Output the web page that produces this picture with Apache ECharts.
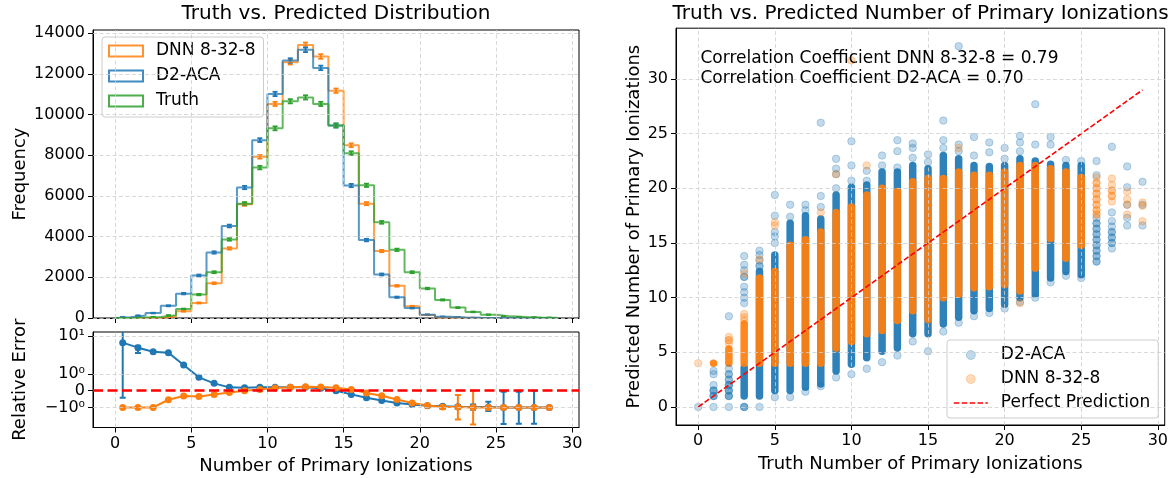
<!DOCTYPE html>
<html>
<head>
<meta charset="utf-8">
<script src="https://cdn.jsdelivr.net/npm/echarts@6/dist/echarts.min.js"></script>
<style>
  html, body { margin: 0; padding: 0; background: #fff; }
  #chart { width: 1171px; height: 478px; }
</style>
</head>
<body>
<div id="chart"></div>
<script>
// ---------------- data ----------------
// unit-width histogram bins: left edges 0 .. 28
const binLefts = [0, 1, 2, 3, 4, 5, 6, 7, 8, 9, 10, 11, 12, 13, 14, 15, 16, 17, 18, 19, 20, 21, 22, 23, 24, 25, 26, 27, 28];
const binWidth = 1;

const histDNN   = [0, 0, 0, 76, 330, 740, 1710, 3420, 5590, 7920, 10520, 12570, 13420, 12850, 11170, 8490, 5620, 3290, 1580, 575, 150, 30, 15, 0, 0, 0, 0, 0, 0];
const histD2    = [38, 119, 243, 600, 1197, 2090, 3220, 4520, 6410, 8740, 11010, 12650, 13180, 12290, 9460, 6510, 3830, 2140, 1020, 490, 165, 65, 30, 10, 5, 0, 0, 0, 0];
const histTruth = [5, 20, 50, 130, 440, 1150, 2250, 3860, 5620, 7390, 9320, 10650, 10840, 10520, 9460, 8100, 6520, 4700, 3350, 2250, 1450, 890, 510, 300, 165, 80, 50, 30, 15];

// relative error (prediction - truth) / truth per bin
const relD2  = [6.67, 4.93, 3.87, 3.64, 1.72, 0.80, 0.44, 0.20, 0.18, 0.20, 0.20, 0.20, 0.20, 0.14, 0.0, -0.22, -0.42, -0.58, -0.74, -0.82, -0.90, -0.93, -0.96, -0.98, -0.98, -1.0, -1.0, -1.0, -1.0];
const relDNN = [-1, -1, -1, -0.54, -0.32, -0.34, -0.22, -0.10, 0.0, 0.08, 0.16, 0.20, 0.24, 0.22, 0.18, 0.08, -0.14, -0.30, -0.52, -0.74, -0.88, -0.97, -0.97, -1, -1, -1, -1, -1, -1];
// error bars on the relative error: [bin index, low, high]
const relD2Err  = [[0, -0.42, 40], [1, 3.56, 5.56], [21, -1.05, -0.85], [22, -1.1, -0.85], [23, -1.15, -0.83], [24, -1.25, -0.66], [25, -2.74, -0.06], [26, -2.7, -0.06], [27, -2.7, 0]];
const relDNNErr = [[21, -1.1, -0.86], [22, -2.07, -0.26], [23, -2.8, 0]];

// scatter: truth value vs predicted value
// dense columns [truth, lowest predicted, highest predicted]
const d2Bands = [
  [3, 1.0, 3.6], [4, 1.0, 12.4], [5, 1.5, 13.9], [6, 1.5, 16.8], [7, 1.8, 17.5], [8, 2.1, 17.2],
  [9, 3.3, 19.4], [10, 3.9, 20.1], [11, 4.5, 20.3], [12, 5.1, 21.5], [13, 5.4, 21.5], [14, 6.7, 22.1],
  [15, 6.7, 21.8], [16, 7.6, 23.0], [17, 8.2, 22.7], [18, 8.8, 22.1], [19, 9.0, 22.0], [20, 9.4, 22.1],
  [21, 10.0, 22.7], [22, 10.3, 22.5], [23, 11.8, 22.2], [24, 12.4, 22.1], [25, 12.1, 22.1]
];
const dnnBands = [
  [1, 4.0, 4.0], [2, 4.0, 5.3], [3, 4.0, 7.6], [4, 4.0, 11.8], [5, 4.0, 12.4], [6, 4.0, 14.8],
  [7, 4.0, 15.3], [8, 4.0, 16.0], [9, 5.4, 17.8], [10, 6.0, 18.3], [11, 6.7, 19.4], [12, 7.0, 20.0],
  [13, 7.9, 19.7], [14, 8.8, 20.6], [15, 8.0, 20.9], [16, 10.0, 20.9], [17, 10.3, 21.5], [18, 10.9, 21.2],
  [19, 11.0, 21.2], [20, 11.2, 21.5], [21, 10.6, 22.1], [22, 12.7, 22.1], [23, 15.4, 21.8], [24, 13.6, 21.5],
  [25, 14.8, 21.0]
];
// isolated predictions [truth, predicted, multiplicity]
const d2Dots = [
  [0, 0, 1],
  [1, 0, 1], [1, 1.0, 3], [1, 1.5, 3], [1, 2.0, 1], [1, 3.0, 1], [1, 3.3, 1],
  [2, 0, 1], [2, 1.0, 3], [2, 1.5, 3], [2, 2.0, 3], [2, 2.5, 2], [2, 3.0, 2], [2, 3.5, 1], [2, 8.3, 1],
  [3, 0, 3], [3, 9.5, 1], [3, 10.0, 1], [3, 10.5, 1], [3, 11.0, 1], [3, 11.9, 2], [3, 12.5, 1], [3, 13.0, 1], [3, 13.8, 1],
  [4, 0, 1], [4, 12.9, 2], [4, 13.4, 1], [4, 13.9, 1], [4, 14.3, 1],
  [5, 0.9, 1], [5, 15.0, 1], [5, 15.6, 1], [5, 16.0, 1], [5, 17.5, 1], [5, 19.4, 1],
  [6, 0.9, 1], [6, 17.4, 1], [6, 18.5, 1],
  [7, 1.4, 1], [7, 18.0, 1], [7, 18.5, 1],
  [8, 1.9, 1], [8, 18.3, 1], [8, 19.3, 1], [8, 26.0, 1],
  [9, 2.7, 1], [9, 20.0, 1], [9, 21.3, 1], [9, 21.8, 1], [9, 22.7, 1],
  [10, 3.0, 1], [10, 20.7, 1], [10, 22.1, 1], [10, 24.3, 1],
  [11, 3.5, 1], [11, 20.7, 1], [11, 21.6, 1],
  [12, 4.1, 1], [12, 22.1, 1], [12, 23.0, 1],
  [13, 4.7, 1], [13, 21.9, 1], [13, 23.4, 1], [13, 24.4, 1],
  [14, 6.0, 1], [14, 22.8, 1], [14, 23.7, 1], [14, 24.1, 1],
  [15, 5.1, 1], [15, 22.4, 1], [15, 23.1, 1],
  [16, 6.9, 1], [16, 23.7, 1], [16, 24.4, 1], [16, 26.2, 1],
  [17, 7.7, 1], [17, 23.4, 1], [17, 24.0, 1], [17, 33.0, 1],
  [18, 8.3, 1], [18, 23.0, 1], [18, 24.7, 1],
  [19, 8.6, 1], [19, 23.3, 1], [19, 24.2, 1],
  [20, 9.0, 1], [20, 22.7, 1], [20, 23.7, 1],
  [21, 9.6, 1], [21, 23.4, 1], [21, 24.2, 1], [21, 24.8, 1],
  [22, 10.0, 1], [22, 24.0, 1], [22, 27.7, 1],
  [23, 11.4, 1], [23, 24.0, 1], [23, 24.7, 1],
  [24, 12.0, 1], [24, 22.6, 1],
  [25, 11.8, 1], [25, 22.5, 1],
  [26, 13.3, 2], [26, 13.8, 2], [26, 14.3, 2], [26, 14.8, 2], [26, 15.3, 2], [26, 15.8, 2], [26, 16.3, 2], [26, 16.8, 2], [26, 17.3, 1], [26, 21.2, 1], [26, 22.5, 1],
  [27, 14.5, 1], [27, 15.0, 2], [27, 15.5, 2], [27, 16.0, 2], [27, 16.5, 1], [27, 17.0, 1], [27, 17.8, 1], [27, 23.8, 1],
  [28, 16.6, 1], [28, 17.3, 1], [28, 18.5, 1], [28, 20.1, 1], [28, 22.0, 1],
  [29, 16.6, 1], [29, 18.5, 1], [29, 20.6, 1]
];
const dnnDots = [
  [0, 4.0, 1],
  [2, 5.8, 1], [2, 6.1, 2], [2, 6.4, 1],
  [3, 7.9, 1], [3, 8.2, 1], [3, 8.5, 1], [3, 12.2, 1],
  [4, 13.5, 1],
  [5, 16.6, 1], [5, 16.9, 1],
  [8, 17.8, 1],
  [9, 21.3, 1],
  [10, 31.7, 1],
  [11, 22.1, 1],
  [17, 23.7, 1],
  [21, 9.5, 1],
  [26, 17.6, 2], [26, 18.0, 2], [26, 18.5, 2], [26, 19.0, 2], [26, 19.5, 2], [26, 20.0, 2], [26, 20.5, 2], [26, 21.0, 1],
  [27, 18.8, 1], [27, 19.3, 2], [27, 19.8, 2], [27, 20.3, 1], [27, 20.9, 1],
  [28, 17.6, 1], [28, 18.5, 1], [28, 19.0, 1], [28, 19.7, 1],
  [29, 17.0, 1], [29, 18.4, 1], [29, 18.7, 1]
];
const truthRange = [0, 29];
const corrDNN = 0.79;
const corrD2 = 0.70;

// tick positions
const xTicks = [0, 5, 10, 15, 20, 25, 30];
const freqTicks = [0, 2000, 4000, 6000, 8000, 10000, 12000, 14000];
const relTicks = [-1, 0, 1, 10];
const predTicks = [0, 5, 10, 15, 20, 25, 30];

// ---------------- styling ----------------
const FONT = 'DejaVu Sans';
const BLUE = '#1f77b4', ORANGE = '#ff7f0e', GREEN = '#2ca02c';
const DOT_ALPHA = 0.28;
const GRID_LINE = { color: '#cfcfcf', width: 0.8, type: [4, 2.5] };

// symmetric-log mapping used by the relative error axis
const LIN = 0.44;
function symlog(v) {
  const a = Math.abs(v);
  return a <= 1 ? v * LIN : Math.sign(v) * (LIN + Math.log10(a));
}
const relTickText = { '-1': '\u221210\u2070', '0': '0', '1': '10\u2070', '10': '10\u00b9' };

const G = [
  { left: 93, top: 30, width: 486, height: 288 },    // histogram
  { left: 93, top: 332, width: 486, height: 95.5 },  // relative error
  { left: 676, top: 28.2, width: 489, height: 400 }  // scatter
];

function stepData(counts) {
  const pts = [[binLefts[0], 0]];
  counts.forEach((c, i) => pts.push([binLefts[i], c]));
  const end = binLefts[counts.length - 1] + binWidth;
  pts.push([end, counts[counts.length - 1]]);
  pts.push([end, 0]);
  return pts;
}

function errorBarRender(color, capHalf, lw) {
  return function (params, api) {
    const x = api.value(0);
    const lo = api.coord([x, api.value(1)]);
    const hi = api.coord([x, api.value(2)]);
    const st = { stroke: color, lineWidth: lw };
    return {
      type: 'group',
      children: [
        { type: 'line', shape: { x1: lo[0], y1: lo[1], x2: hi[0], y2: hi[1] }, style: st },
        { type: 'line', shape: { x1: lo[0] - capHalf, y1: lo[1], x2: lo[0] + capHalf, y2: lo[1] }, style: st },
        { type: 'line', shape: { x1: hi[0] - capHalf, y1: hi[1], x2: hi[0] + capHalf, y2: hi[1] }, style: st }
      ]
    };
  };
}

function histErrData(counts) {
  return counts.map((c, i) => [binLefts[i] + binWidth / 2, c - Math.sqrt(c), c + Math.sqrt(c)]).filter((d, i) => counts[i] > 0);
}

const MARK = 7.5;
function bandRender(color) {
  return function (params, api) {
    const x = api.value(0);
    const top = api.coord([x, api.value(2)]);
    const bot = api.coord([x, api.value(1)]);
    const r = MARK / 2;
    return {
      type: 'rect',
      shape: { x: top[0] - r, y: top[1] - r, width: 2 * r, height: bot[1] - top[1] + 2 * r, r: r },
      style: { fill: color, opacity: 0.93 }
    };
  };
}

function dotData(list) {
  return list.map(d => ({ value: [d[0], d[1]], itemStyle: { opacity: 1 - Math.pow(1 - DOT_ALPHA, d[2]) } }));
}

function gridLines(gridIdx, xs, ys) {
  return {
    type: 'line', xAxisIndex: gridIdx, yAxisIndex: gridIdx, data: [], silent: true, z: 1,
    markLine: {
      silent: true, symbol: 'none', animation: false, label: { show: false },
      lineStyle: GRID_LINE,
      data: xs.map(v => ({ xAxis: v })).concat(ys.map(v => ({ yAxis: v })))
    }
  };
}

const tickText = { fontFamily: FONT, fontSize: 16, color: '#000' };
const nameText = { fontFamily: FONT, fontSize: 18, color: '#000' };
const axisLine = { show: true, onZero: false, lineStyle: { color: '#000', width: 1 } };
const plain = v => String(v);
function ticks(values) {
  return { show: true, inside: false, length: 5, customValues: values, lineStyle: { color: '#000', width: 1 } };
}

const option = {
  animation: false,
  backgroundColor: '#fff',
  title: [
    { text: 'Truth vs. Predicted Distribution', left: G[0].left + G[0].width / 2, top: 4, textAlign: 'center', padding: 0,
      textStyle: { fontFamily: FONT, fontSize: 20, fontWeight: 'normal', color: '#000' } },
    { text: 'Truth vs. Predicted Number of Primary Ionizations', left: G[2].left + G[2].width / 2, top: 4, textAlign: 'center', padding: 0,
      textStyle: { fontFamily: FONT, fontSize: 20, fontWeight: 'normal', color: '#000' } },
    { text: 'Correlation Coefficient DNN 8-32-8 = ' + corrDNN.toFixed(2) + '\nCorrelation Coefficient D2-ACA = ' + corrD2.toFixed(2),
      left: G[2].left + 0.05 * G[2].width, top: G[2].top + 0.05 * G[2].height, padding: 0,
      textStyle: { fontFamily: FONT, fontSize: 17, lineHeight: 20, fontWeight: 'normal', color: '#000' } }
  ],
  legend: [
    {
      orient: 'vertical', left: 102, top: 37, padding: [4, 8, 6, 6], itemGap: 5, itemWidth: 34, itemHeight: 11,
      backgroundColor: 'rgba(255,255,255,0.8)', borderColor: '#cccccc', borderWidth: 1, borderRadius: 3,
      textStyle: { fontFamily: FONT, fontSize: 17, color: '#000', lineHeight: 20, padding: [0, 0, 0, 8] },
      selectedMode: false,
      data: [
        { name: 'DNN 8-32-8', icon: 'rect', itemStyle: { color: 'rgba(0,0,0,0)', borderColor: ORANGE, borderWidth: 2, opacity: 0.85 } },
        { name: 'D2-ACA', icon: 'rect', itemStyle: { color: 'rgba(0,0,0,0)', borderColor: BLUE, borderWidth: 2, opacity: 0.85 } },
        { name: 'Truth', icon: 'rect', itemStyle: { color: 'rgba(0,0,0,0)', borderColor: GREEN, borderWidth: 2, opacity: 0.85 } }
      ]
    },
    {
      orient: 'vertical', left: 947, top: 340, padding: [5, 8, 5, 6], itemGap: 4, itemWidth: 34, itemHeight: 9,
      backgroundColor: 'rgba(255,255,255,0.8)', borderColor: '#cccccc', borderWidth: 1, borderRadius: 3,
      textStyle: { fontFamily: FONT, fontSize: 17, color: '#000', lineHeight: 20, padding: [0, 0, 0, 8] },
      selectedMode: false,
      formatter: name => name.replace(' pred', ''),
      data: [
        { name: 'D2-ACA pred', icon: 'circle', itemStyle: { color: BLUE, opacity: DOT_ALPHA, borderColor: BLUE, borderWidth: 1 } },
        { name: 'DNN 8-32-8 pred', icon: 'circle', itemStyle: { color: ORANGE, opacity: DOT_ALPHA, borderColor: ORANGE, borderWidth: 1 } },
        { name: 'Perfect Prediction', itemStyle: { color: 'rgba(0,0,0,0)', borderWidth: 0, opacity: 0 },
          lineStyle: { color: '#ff0000', width: 1.6, type: [5.5, 2.4], opacity: 1 } }
      ]
    }
  ],
  grid: G.map(g => Object.assign({ show: true, borderColor: '#000', borderWidth: 1, backgroundColor: 'transparent', containLabel: false }, g)),
  xAxis: [
    { gridIndex: 0, type: 'value', min: -1.45, max: 30.45, axisLine, axisTick: ticks(xTicks),
      axisLabel: { show: false }, splitLine: { show: false } },
    { gridIndex: 1, type: 'value', min: -1.45, max: 30.45, axisLine, axisTick: ticks(xTicks),
      axisLabel: Object.assign({ show: true, customValues: xTicks, margin: 8, formatter: plain }, tickText), splitLine: { show: false },
      name: 'Number of Primary Ionizations', nameLocation: 'middle', nameGap: 30, nameTextStyle: nameText },
    { gridIndex: 2, type: 'value', min: -1.45, max: 30.45, axisLine, axisTick: ticks(xTicks),
      axisLabel: Object.assign({ show: true, customValues: xTicks, margin: 8, formatter: plain }, tickText), splitLine: { show: false },
      name: 'Truth Number of Primary Ionizations', nameLocation: 'middle', nameGap: 30, nameTextStyle: nameText }
  ],
  yAxis: [
    { gridIndex: 0, type: 'value', min: 0, max: 14152, axisLine, axisTick: ticks(freqTicks),
      axisLabel: Object.assign({ show: true, customValues: freqTicks, margin: 8, formatter: plain }, tickText), splitLine: { show: false },
      name: 'Frequency', nameLocation: 'middle', nameGap: 64, nameTextStyle: nameText },
    { gridIndex: 1, type: 'value', min: -0.968, max: 1.545, axisLine, axisTick: ticks(relTicks.map(symlog)),
      axisLabel: Object.assign({ show: true, customValues: relTicks.map(symlog), margin: 8,
        formatter: v => { for (const t of relTicks) { if (Math.abs(symlog(t) - v) < 1e-6) return relTickText[String(t)]; } return ''; } }, tickText),
      splitLine: { show: false },
      name: 'Relative Error', nameLocation: 'middle', nameGap: 64, nameTextStyle: nameText },
    { gridIndex: 2, type: 'value', min: -1.65, max: 34.65, axisLine, axisTick: ticks(predTicks),
      axisLabel: Object.assign({ show: true, customValues: predTicks, margin: 8, formatter: plain }, tickText), splitLine: { show: false },
      name: 'Predicted Number of Primary Ionizations', nameLocation: 'middle', nameGap: 33, nameTextStyle: nameText }
  ],
  series: [
    // grid lines
    gridLines(0, xTicks, freqTicks),
    gridLines(1, xTicks, relTicks.filter(t => t !== 0).map(symlog)),
    gridLines(2, xTicks, predTicks),

    // histogram steps and their error bars
    { name: 'DNN 8-32-8', type: 'line', xAxisIndex: 0, yAxisIndex: 0, step: 'end', symbol: 'none', silent: true,
      data: stepData(histDNN), lineStyle: { color: ORANGE, width: 2, opacity: 0.75 }, itemStyle: { color: ORANGE } },
    { type: 'custom', xAxisIndex: 0, yAxisIndex: 0, silent: true, data: histErrData(histDNN), renderItem: errorBarRender(ORANGE, 2.5, 1.8) },
    { name: 'D2-ACA', type: 'line', xAxisIndex: 0, yAxisIndex: 0, step: 'end', symbol: 'none', silent: true,
      data: stepData(histD2), lineStyle: { color: BLUE, width: 2, opacity: 0.75 }, itemStyle: { color: BLUE } },
    { type: 'custom', xAxisIndex: 0, yAxisIndex: 0, silent: true, data: histErrData(histD2), renderItem: errorBarRender(BLUE, 2.5, 1.8) },
    { name: 'Truth', type: 'line', xAxisIndex: 0, yAxisIndex: 0, step: 'end', symbol: 'none', silent: true,
      data: stepData(histTruth), lineStyle: { color: GREEN, width: 2, opacity: 0.75 }, itemStyle: { color: GREEN } },
    { type: 'custom', xAxisIndex: 0, yAxisIndex: 0, silent: true, data: histErrData(histTruth), renderItem: errorBarRender(GREEN, 2.5, 1.8) },

    // relative error
    { type: 'custom', xAxisIndex: 1, yAxisIndex: 1, silent: true, clip: true,
      data: relD2Err.map(d => [binLefts[d[0]] + binWidth / 2, symlog(d[1]), symlog(d[2])]), renderItem: errorBarRender(BLUE, 3, 2) },
    { type: 'line', xAxisIndex: 1, yAxisIndex: 1, silent: true, symbol: 'circle', symbolSize: 7,
      data: relD2.map((v, i) => [binLefts[i] + binWidth / 2, symlog(v)]),
      lineStyle: { color: BLUE, width: 2 }, itemStyle: { color: BLUE } },
    { type: 'custom', xAxisIndex: 1, yAxisIndex: 1, silent: true, clip: true,
      data: relDNNErr.map(d => [binLefts[d[0]] + binWidth / 2, symlog(d[1]), symlog(d[2])]), renderItem: errorBarRender(ORANGE, 3, 2) },
    { type: 'line', xAxisIndex: 1, yAxisIndex: 1, silent: true, symbol: 'circle', symbolSize: 7,
      data: relDNN.map((v, i) => [binLefts[i] + binWidth / 2, symlog(v)]),
      lineStyle: { color: ORANGE, width: 2 }, itemStyle: { color: ORANGE },
      markLine: { silent: true, symbol: 'none', label: { show: false }, lineStyle: { color: '#ff0000', width: 2.5, type: [10, 4.5] },
        data: [{ yAxis: 0 }] } },

    // scatter: D2-ACA first, DNN on top
    { type: 'custom', xAxisIndex: 2, yAxisIndex: 2, silent: true, data: d2Bands, renderItem: bandRender(BLUE) },
    { name: 'D2-ACA pred', type: 'scatter', xAxisIndex: 2, yAxisIndex: 2, silent: true, symbol: 'circle', symbolSize: MARK,
      data: dotData(d2Dots), itemStyle: { color: BLUE, opacity: DOT_ALPHA, borderColor: BLUE, borderWidth: 1 } },
    { type: 'custom', xAxisIndex: 2, yAxisIndex: 2, silent: true, data: dnnBands, renderItem: bandRender(ORANGE) },
    { name: 'DNN 8-32-8 pred', type: 'scatter', xAxisIndex: 2, yAxisIndex: 2, silent: true, symbol: 'circle', symbolSize: MARK,
      data: dotData(dnnDots), itemStyle: { color: ORANGE, opacity: DOT_ALPHA, borderColor: ORANGE, borderWidth: 1 } },
    { name: 'Perfect Prediction', type: 'line', xAxisIndex: 2, yAxisIndex: 2, silent: true, symbol: 'none',
      data: [[truthRange[0], truthRange[0]], [truthRange[1], truthRange[1]]],
      lineStyle: { color: '#ff0000', width: 1.6, type: [5.5, 2.4] }, itemStyle: { color: '#ff0000' } }
  ]
};

const chart = echarts.init(document.getElementById('chart'), null, { renderer: 'canvas' });
chart.setOption(option);
</script>
</body>
</html>
